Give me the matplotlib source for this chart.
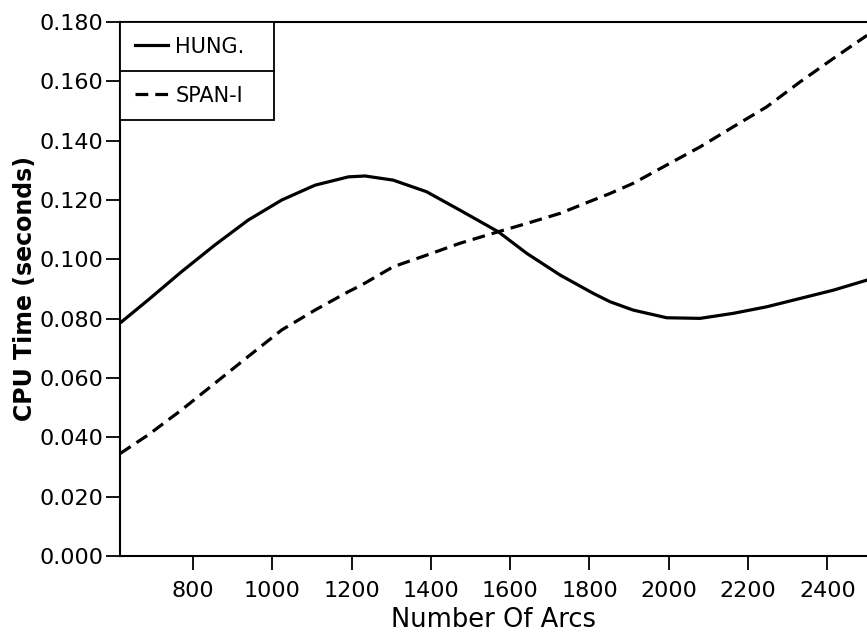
import matplotlib
matplotlib.use("Agg")
import matplotlib.pyplot as plt
from matplotlib.lines import Line2D

# values
hung_x = [616, 687, 771, 855, 939, 1024, 1108, 1192, 1234, 1305, 1389, 1473,
          1570, 1642, 1726, 1810, 1852, 1910, 1995, 2079, 2163, 2247, 2331,
          2415, 2500]
hung = [0.0785, 0.0863, 0.0958, 0.1048, 0.1132, 0.1200, 0.1250, 0.1278,
        0.1281, 0.1267, 0.1228, 0.1166, 0.1093, 0.1020, 0.0947, 0.0885,
        0.0857, 0.0829, 0.0803, 0.0801, 0.0818, 0.0840, 0.0868, 0.0896,
        0.0930]
span_x = [616, 687, 771, 855, 939, 1024, 1108, 1192, 1225, 1305, 1389, 1473,
          1570, 1642, 1726, 1810, 1852, 1910, 1995, 2079, 2163, 2247, 2331,
          2415, 2500]
span_i = [0.0345, 0.0408, 0.0492, 0.0582, 0.0672, 0.0762, 0.0829, 0.0891,
          0.0913, 0.0975, 0.1014, 0.1054, 0.1093, 0.1121, 0.1155, 0.1200,
          0.1222, 0.1256, 0.1318, 0.1379, 0.1447, 0.1514, 0.1598, 0.1677,
          0.1755]
x_ticks = [800, 1000, 1200, 1400, 1600, 1800, 2000, 2200, 2400]
y_ticks = [0.0, 0.02, 0.04, 0.06, 0.08, 0.10, 0.12, 0.14, 0.16, 0.18]

fig = plt.figure(figsize=(8.67, 6.42), dpi=100)
ax = fig.add_axes([0.1384, 0.134, 0.8616, 0.8317])

ax.plot(hung_x, hung, color='black', lw=2.3, label='HUNG.')
ax.plot(span_x, span_i, color='black', lw=2.3, dashes=[4, 2.2], label='SPAN-I')

ax.set_xlim(616, 2500)
ax.set_ylim(0, 0.18)
ax.set_xticks(x_ticks)
ax.set_yticks(y_ticks)
ax.set_yticklabels(['%.3f' % v for v in y_ticks])
ax.tick_params(axis='both', direction='out', length=10, width=1.3, labelsize=16)
ax.tick_params(axis='x', pad=8)
ax.tick_params(axis='y', pad=2)
ax.spines['right'].set_visible(False)
for s in ['left', 'bottom', 'top']:
    ax.spines[s].set_linewidth(1.5)

ax.set_xlabel('Number Of Arcs', fontsize=18.5, labelpad=4)
ax.set_ylabel('CPU Time (seconds)', fontsize=17, fontweight='bold', labelpad=2)

leg = ax.legend(loc='upper left', bbox_to_anchor=(0, 1, 0.206, 0), mode='expand',
                borderaxespad=0, fancybox=False, edgecolor='black', framealpha=1,
                fontsize=15, handlelength=1.6, handletextpad=0.35,
                labelspacing=1.4, borderpad=0.7)
leg.get_frame().set_linewidth(1.3)

# divider between the two legend rows
fig.canvas.draw()
bb = leg.get_frame().get_window_extent().transformed(fig.transFigure.inverted())
ymid = (bb.y0 + bb.y1) / 2
fig.add_artist(Line2D([bb.x0, bb.x1], [ymid, ymid], color='black', lw=1.3,
                      transform=fig.transFigure))

plt.savefig('out.png', dpi=100)
